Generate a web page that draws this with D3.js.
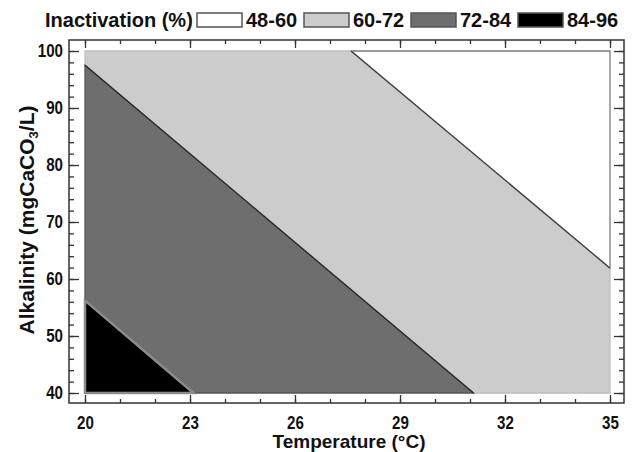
<!DOCTYPE html>
<html>
<head>
<meta charset="utf-8">
<script src="https://cdn.jsdelivr.net/npm/d3@7"></script>
<style>
  body { margin: 0; background: #fff; }
  svg { display: block; }
  .tick text { font-family: "Liberation Sans", Arial, sans-serif; font-weight: bold; font-size: 18px; fill: #111; }
  .tick line { stroke: #333; stroke-width: 1.3; }
</style>
</head>
<body>
<div id="chart"></div>
<script>
// contour bands
const levels = ["48-60", "60-72", "72-84", "84-96"];

// boundary lines between bands, [temperature, alkalinity]
const bound60 = [[27.6, 100], [35, 61.9]];
const bound72 = [[20, 97.5], [31.1, 40]];
const bound84 = [[20, 56.2], [23.1, 40]];

// axis ticks
const xTicks = [20, 23, 26, 29, 32, 35];
const xMinor = [20, 21, 22, 23, 24, 25, 26, 27, 28, 29, 30, 31, 32, 33, 34, 35];
const yTicks = [40, 50, 60, 70, 80, 90, 100];
const yMinor = [40, 42, 44, 46, 48, 50, 52, 54, 56, 58, 60, 62, 64, 66, 68, 70, 72, 74, 76, 78, 80, 82, 84, 86, 88, 90, 92, 94, 96, 98, 100];

const fills = ["#ffffff", "#cccccc", "#6e6e6e", "#000000"];
const strokes = ["#7a7a7a", "#bdbdbd", "#555555", "#8c8c8c"];

const svg = d3.select("#chart")
    .append("svg")
    .attr("width", 634)
    .attr("height", 452);

const x = d3.scaleLinear().domain([20, 35]).range([85, 610]);
const y = d3.scaleLinear().domain([40, 100]).range([393, 51]);

const frame = { left: 69, top: 40, right: 624, bottom: 403 };

// regions built from the boundaries and the domain corners
const regions = [
    [bound60[0], [35, 100], bound60[1]],
    [[20, 100], bound60[0], bound60[1], [35, 40], bound72[1], bound72[0]],
    [bound72[0], bound72[1], bound84[1], bound84[0]],
    [bound84[0], bound84[1], [20, 40]]
];

const line = d3.line().x(d => x(d[0])).y(d => y(d[1]));

svg.append("g")
    .selectAll("path")
    .data(regions)
    .enter()
    .append("path")
    .attr("d", d => line(d) + "Z")
    .attr("fill", (d, i) => fills[i])
    .attr("stroke", (d, i) => strokes[i])
    .attr("stroke-width", (d, i) => i == 3 ? 2.5 : 1.3)
    .attr("stroke-linejoin", "miter");

// contour lines
svg.append("path").attr("d", line(bound60)).attr("fill", "none").attr("stroke", "#3a3a3a").attr("stroke-width", 1.2);
svg.append("path").attr("d", line(bound72)).attr("fill", "none").attr("stroke", "#2a2a2a").attr("stroke-width", 1.2);

// frame
svg.append("rect")
    .attr("x", frame.left)
    .attr("y", frame.top)
    .attr("width", frame.right - frame.left)
    .attr("height", frame.bottom - frame.top)
    .attr("fill", "none")
    .attr("stroke", "#333")
    .attr("stroke-width", 1.5);

// axes (ticks point inward)
function addAxis(axis, tx, ty) {
    const g = svg.append("g").attr("transform", "translate(" + tx + "," + ty + ")").call(axis);
    g.select(".domain").remove();
    // narrow the tick labels a bit, like the original
    g.selectAll("text").each(function () {
        const w = this.getComputedTextLength();
        if (w > 0) d3.select(this).attr("textLength", w * 0.84).attr("lengthAdjust", "spacingAndGlyphs");
    });
    return g;
}

addAxis(d3.axisBottom(x).tickValues(xMinor).tickSize(-4).tickFormat(""), 0, frame.bottom);
addAxis(d3.axisBottom(x).tickValues(xTicks).tickSize(-8).tickPadding(13), 0, frame.bottom);
addAxis(d3.axisTop(x).tickValues(xMinor).tickSize(-4).tickFormat(""), 0, frame.top);
addAxis(d3.axisTop(x).tickValues(xTicks).tickSize(-8).tickFormat(""), 0, frame.top);

addAxis(d3.axisLeft(y).tickValues(yMinor).tickSize(-5).tickFormat(""), frame.left, 0);
addAxis(d3.axisLeft(y).tickValues(yTicks).tickSize(-10).tickPadding(6), frame.left, 0);
addAxis(d3.axisRight(y).tickValues(yMinor).tickSize(-5).tickFormat(""), frame.right, 0);
addAxis(d3.axisRight(y).tickValues(yTicks).tickSize(-10).tickFormat(""), frame.right, 0);

// axis titles
svg.append("text")
    .attr("x", 349)
    .attr("y", 448)
    .attr("text-anchor", "middle")
    .attr("font-family", "Liberation Sans, Arial, sans-serif")
    .attr("font-weight", "bold")
    .attr("font-size", "19px")
    .attr("fill", "#111")
    .text("Temperature (°C)");

const yTitle = svg.append("text")
    .attr("transform", "translate(34,220) rotate(-90)")
    .attr("text-anchor", "middle")
    .attr("font-family", "Liberation Sans, Arial, sans-serif")
    .attr("font-weight", "bold")
    .attr("font-size", "21px")
    .attr("fill", "#111");
yTitle.append("tspan").text("Alkalinity (mgCaCO");
yTitle.append("tspan").attr("font-size", "13px").attr("dy", 4).text("3");
yTitle.append("tspan").attr("dy", -4).text("/L)");

// legend
const legend = svg.append("g").attr("font-family", "Liberation Sans, Arial, sans-serif")
    .attr("font-weight", "bold")
    .attr("font-size", "20px")
    .attr("fill", "#111");

legend.append("text")
    .attr("x", 45)
    .attr("y", 27)
    .text("Inactivation (%)");

const item = legend.selectAll("g.item")
    .data(levels)
    .enter()
    .append("g")
    .attr("class", "item")
    .attr("transform", (d, i) => "translate(" + (197 + i * 107) + ",0)");

item.append("rect")
    .attr("x", 0)
    .attr("y", 13)
    .attr("width", 45)
    .attr("height", 14)
    .attr("fill", (d, i) => fills[i])
    .attr("stroke", "#555")
    .attr("stroke-width", 1.5);

item.append("text")
    .attr("x", 49)
    .attr("y", 27)
    .text(d => d);
</script>
</body>
</html>
